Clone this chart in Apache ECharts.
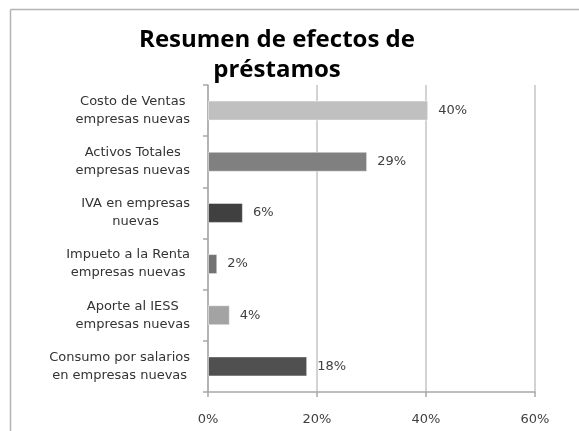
<!DOCTYPE html>
<html>
<head>
<meta charset="utf-8">
<script src="https://cdn.jsdelivr.net/npm/echarts@6/dist/echarts.min.js"></script>
<style>
html, body { margin: 0; padding: 0; background: #fff; }
#chart { width: 579px; height: 431px; }
</style>
</head>
<body>
<div id="chart"></div>
<script>
// categorias (de arriba hacia abajo)
var categories = [
  'Costo de Ventas\nempresas nuevas',
  'Activos Totales\nempresas nuevas',
  'IVA en empresas\nnuevas',
  'Impueto a la Renta\nempresas nuevas',
  'Aporte al IESS\nempresas nuevas',
  'Consumo por salarios\nen empresas nuevas'
]
var values = [40.4, 29.2, 6.4, 1.7, 4.0, 18.2]
var barColors = ['#c0c0c0', '#808080', '#404040', '#737373', '#a3a3a3', '#505050']
var xTicks = [0, 20, 40, 60]

var myChart = echarts.init(document.getElementById('chart'))

var data = values.map(function (v, i) {
  return {
    value: v,
    itemStyle: { color: barColors[i] }
  }
})

// borde del area del grafico (solo izquierda y arriba se ven)
var frameStyle = { stroke: '#b4b4b4', lineWidth: 1.5 }

myChart.setOption({
  animation: false,
  graphic: [{
    type: 'line',
    shape: { x1: 10.5, y1: 9.5, x2: 579, y2: 9.5 },
    style: frameStyle,
    silent: true
  }, {
    type: 'line',
    shape: { x1: 10.5, y1: 9.5, x2: 10.5, y2: 431 },
    style: frameStyle,
    silent: true
  }],
  title: {
    text: 'Resumen de efectos de\npréstamos',
    left: 272,
    textAlign: 'center',
    top: 20,
    textStyle: {
      fontFamily: 'Open Sans',
      fontWeight: 'bold',
      fontSize: 24,
      lineHeight: 30,
      color: '#000'
    }
  },
  grid: {
    left: 208,
    right: 44,
    top: 85,
    bottom: 39
  },
  xAxis: {
    type: 'value',
    min: xTicks[0],
    max: xTicks[xTicks.length - 1],
    interval: 20,
    axisLine: { show: true, lineStyle: { color: '#a8a8a8', width: 1.5 } },
    axisTick: { show: true, length: 5, lineStyle: { color: '#a8a8a8', width: 1.5 } },
    axisLabel: {
      margin: 21,
      fontFamily: 'DejaVu Sans',
      fontSize: 13,
      color: '#404040',
      formatter: '{value}%'
    },
    splitLine: { show: true, lineStyle: { color: '#c4c4c4', width: 1.5 } }
  },
  yAxis: {
    type: 'category',
    inverse: true,
    data: categories,
    axisLine: { show: true, lineStyle: { color: '#a8a8a8', width: 1.5 } },
    axisTick: { show: true, length: 5, lineStyle: { color: '#a8a8a8', width: 1.5 } },
    axisLabel: {
      margin: 18,
      align: 'right',
      // cada linea centrada dentro del bloque, como en Excel
      formatter: function (val) {
        return val.split('\n').map(function (s) { return '{c|' + s + '}' }).join('\n')
      },
      rich: {
        c: {
          align: 'center',
          fontFamily: 'DejaVu Sans',
          fontSize: 13,
          lineHeight: 18,
          color: '#333'
        }
      }
    }
  },
  series: [{
    type: 'bar',
    data: data,
    barWidth: 20,
    itemStyle: { borderColor: 'rgba(255,255,255,0.45)', borderWidth: 1 },
    label: {
      show: true,
      position: 'right',
      distance: 10,
      fontFamily: 'DejaVu Sans',
      fontSize: 13,
      color: '#404040',
      formatter: function (p) { return Math.round(p.value) + '%' }
    }
  }]
})
</script>
</body>
</html>
